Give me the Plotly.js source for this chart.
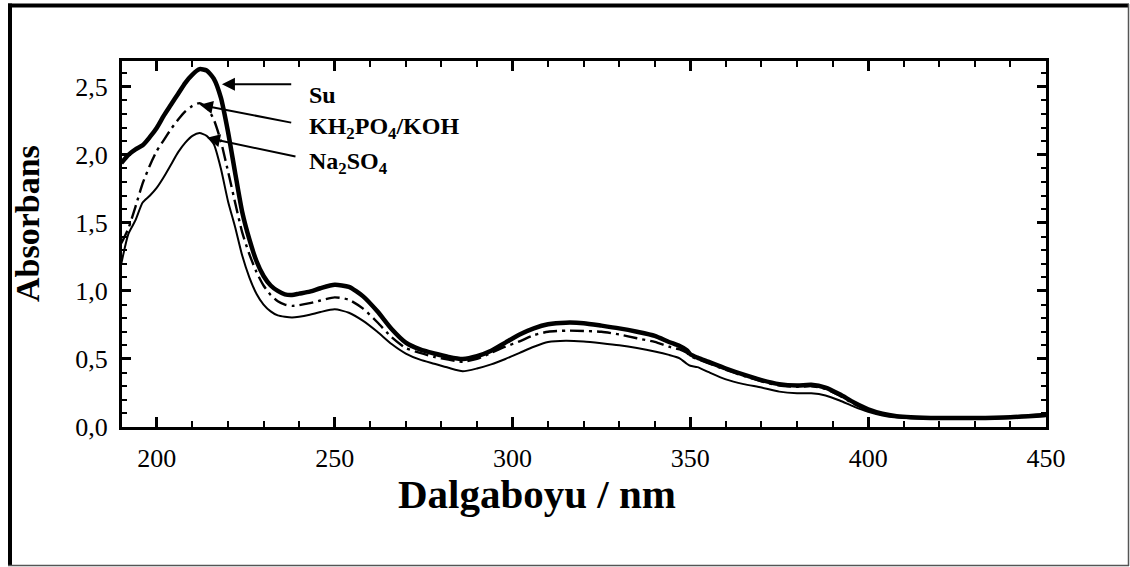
<!DOCTYPE html>
<html>
<head>
<meta charset="utf-8">
<script src="https://cdn.plot.ly/plotly-3.0.1.min.js"></script>
<style>
  html, body { margin: 0; padding: 0; background: #fff; }
  #chart { width: 1130px; height: 567px; }
</style>
</head>
<body>
<div id="chart"></div>
<script>
// Wavelengths (nm) at which the spectra are sampled
const wavelength = [190, 192, 194, 196, 198, 200, 202, 204, 206, 208, 210, 212, 214, 216, 218, 220,
  222, 224, 226, 228, 230, 232, 234, 236, 238, 240, 243, 246, 250, 254, 258, 262, 266, 270, 274,
  278, 282, 286, 290, 294, 298, 302, 306, 310, 315, 320, 325, 330, 335, 340, 344, 347, 349, 350,
  352, 355, 360, 365, 370, 375, 380, 384, 388, 392, 396, 400, 404, 408, 412, 420, 430, 440, 450];

// Absorbance in water
const absSu = [1.94, 2.00, 2.04, 2.07, 2.13, 2.20, 2.29, 2.37, 2.45, 2.53, 2.59, 2.63, 2.62, 2.56,
  2.42, 2.17, 1.87, 1.58, 1.38, 1.22, 1.11, 1.04, 1.00, 0.975, 0.97, 0.98, 0.995, 1.02, 1.045,
  1.03, 0.96, 0.85, 0.72, 0.62, 0.57, 0.54, 0.515, 0.50, 0.52, 0.56, 0.62, 0.68, 0.725, 0.755,
  0.767, 0.763, 0.745, 0.725, 0.70, 0.67, 0.625, 0.595, 0.565, 0.535, 0.51, 0.48, 0.43, 0.385,
  0.345, 0.315, 0.305, 0.31, 0.29, 0.24, 0.18, 0.13, 0.098, 0.08, 0.072, 0.066, 0.066, 0.072, 0.088];

// Absorbance in KH2PO4/KOH buffer
const absKH = [1.35, 1.46, 1.62, 1.79, 1.92, 2.03, 2.11, 2.19, 2.26, 2.32, 2.36, 2.38, 2.35, 2.26,
  2.10, 1.88, 1.65, 1.43, 1.27, 1.14, 1.04, 0.97, 0.925, 0.90, 0.89, 0.895, 0.91, 0.93, 0.953,
  0.935, 0.87, 0.77, 0.66, 0.58, 0.545, 0.515, 0.495, 0.48, 0.50, 0.545, 0.59, 0.63, 0.675, 0.70,
  0.708, 0.706, 0.70, 0.68, 0.652, 0.625, 0.59, 0.57, 0.545, 0.52, 0.50, 0.47, 0.42, 0.375,
  0.335, 0.305, 0.295, 0.30, 0.28, 0.23, 0.17, 0.123, 0.094, 0.077, 0.07, 0.064, 0.064, 0.07, 0.085];

// Absorbance in Na2SO4
const absNa = [1.20, 1.42, 1.52, 1.65, 1.70, 1.76, 1.84, 1.93, 2.02, 2.09, 2.14, 2.16, 2.14, 2.08,
  1.90, 1.66, 1.47, 1.26, 1.10, 0.98, 0.90, 0.85, 0.82, 0.81, 0.805, 0.81, 0.825, 0.845, 0.865,
  0.84, 0.78, 0.70, 0.61, 0.54, 0.495, 0.465, 0.435, 0.41, 0.43, 0.46, 0.50, 0.545, 0.59, 0.625,
  0.634, 0.628, 0.615, 0.60, 0.58, 0.555, 0.53, 0.505, 0.465, 0.45, 0.44, 0.405, 0.35, 0.315,
  0.29, 0.26, 0.248, 0.248, 0.232, 0.195, 0.15, 0.112, 0.085, 0.07, 0.064, 0.06, 0.06, 0.066, 0.08];

const seriesNames = ['Su', 'KH<sub>2</sub>PO<sub>4</sub>/KOH', 'Na<sub>2</sub>SO<sub>4</sub>'];

const xRange = [190.2, 450];
const yRange = [0, 2.69];
const serif = 'Liberation Serif, Times New Roman, serif';

const traces = [
  { x: wavelength, y: absSu, mode: 'lines', name: 'Su',
    line: { color: '#000', width: 4.5, shape: 'spline', smoothing: 0.6 } },
  { x: wavelength, y: absKH, mode: 'lines', name: 'KH2PO4/KOH',
    line: { color: '#000', width: 2.4, dash: '14px,5px,3px,5px', shape: 'spline', smoothing: 0.6 } },
  { x: wavelength, y: absNa, mode: 'lines', name: 'Na2SO4',
    line: { color: '#000', width: 2, shape: 'spline', smoothing: 0.6 } }
];

// Labels on the right, arrows pointing back to each curve's maximum
const labelX = 242.2;
const labelY = [2.44, 2.20, 1.94];
const arrowHead = [[218.3, 2.52], [212.1, 2.368], [214.1, 2.125]];
const arrowTail = [[238.2, 2.52], [238.2, 2.235], [239.4, 1.985]];

const annotations = [];
seriesNames.forEach((name, i) => {
  annotations.push({
    x: labelX, y: labelY[i], xref: 'x', yref: 'y', xanchor: 'left', yanchor: 'middle',
    text: '<b>' + name + '</b>', showarrow: false,
    font: { family: serif, size: 24, color: '#000' }
  });
  annotations.push({
    x: arrowHead[i][0], y: arrowHead[i][1], ax: arrowTail[i][0], ay: arrowTail[i][1],
    xref: 'x', yref: 'y', axref: 'x', ayref: 'y', text: '', showarrow: true,
    arrowhead: 2, arrowsize: 1.3, arrowwidth: 2, arrowcolor: '#000', standoff: 0, startstandoff: 0
  });
});

annotations.push({
  x: 0.449, y: -0.183, xref: 'paper', yref: 'paper', xanchor: 'center', yanchor: 'middle',
  showarrow: false, text: '<b>Dalgaboyu / nm</b>', font: { family: serif, size: 41, color: '#000' }
});
annotations.push({
  x: -0.1028, y: 0.5546, xref: 'paper', yref: 'paper', xanchor: 'center', yanchor: 'middle',
  showarrow: false, textangle: -90,
  text: '<b>Absorbans</b>', font: { family: serif, size: 34, color: '#000' }
});

// Figure frame (paper coordinates relative to the plot area)
const L = 122, R = 1046, T = 61, B = 427;
const px = v => (v - L) / (R - L);
const py = v => (B - v) / (B - T);
const frame = [
  { x0: px(10), x1: px(10), y0: py(3.5), y1: py(566), width: 4, color: '#000' },
  { x0: px(8), x1: px(1129), y0: py(5.5), y1: py(5.5), width: 4, color: '#000' },
  { x0: px(1128.5), x1: px(1128.5), y0: py(4), y1: py(566), width: 1.5, color: '#555' },
  { x0: px(8), x1: px(1129), y0: py(565.5), y1: py(565.5), width: 1.5, color: '#555' }
].map(s => ({ type: 'line', xref: 'paper', yref: 'paper', x0: s.x0, x1: s.x1, y0: s.y0, y1: s.y1,
  line: { color: s.color, width: s.width } }));

const layout = {
  width: 1130, height: 567,
  margin: { l: L, r: 1130 - R, t: T, b: 567 - B, pad: 0 },
  paper_bgcolor: '#fff', plot_bgcolor: '#fff',
  showlegend: false,
  separators: ', ',
  font: { family: serif, size: 26, color: '#000' },
  xaxis: {
    range: xRange, tickmode: 'linear', dtick: 50, tick0: 200, ticks: 'inside', ticklen: 10,
    tickwidth: 3, tickcolor: '#000', showline: true, linewidth: 3, linecolor: '#000',
    mirror: 'ticks', showgrid: false, zeroline: false, ticklabelstandoff: 6,
    tickfont: { family: serif, size: 26, color: '#000' },
    minor: { dtick: 10, ticks: 'inside', ticklen: 6, tickwidth: 2, tickcolor: '#000', showgrid: false }
  },
  yaxis: {
    range: yRange, tickmode: 'linear', dtick: 0.5, tick0: 0, tickformat: '.1f', ticks: 'inside',
    ticklen: 9, tickwidth: 3, tickcolor: '#000', showline: true, linewidth: 3, linecolor: '#000',
    mirror: 'ticks', showgrid: false, zeroline: false, ticklabelstandoff: 6,
    tickfont: { family: serif, size: 26, color: '#000' },
    minor: { dtick: 0.1, ticks: 'inside', ticklen: 5, tickwidth: 2, tickcolor: '#000', showgrid: false }
  },
  annotations: annotations,
  shapes: frame
};

Plotly.newPlot('chart', traces, layout, { displayModeBar: false });
</script>
</body>
</html>
